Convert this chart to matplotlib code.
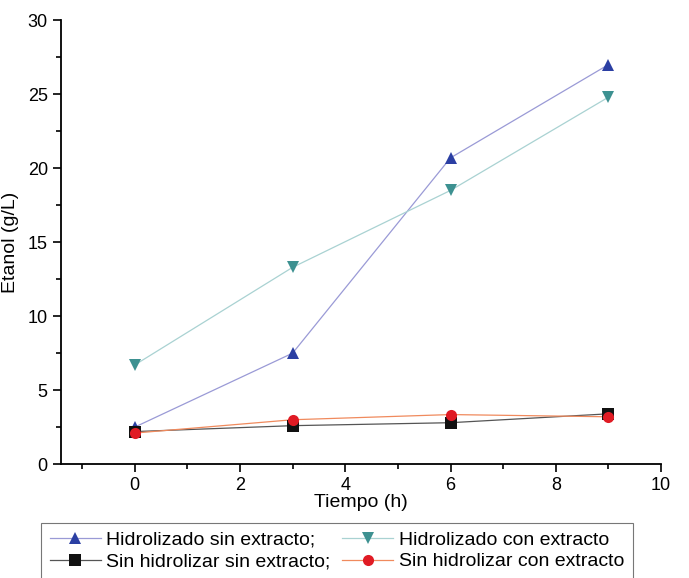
import matplotlib

matplotlib.use("Agg")
import matplotlib.pyplot as plt
from matplotlib.lines import Line2D
import matplotlib.ticker as mticker

plt.rcParams["font.family"] = ["Liberation Sans", "DejaVu Sans"]
plt.rcParams["font.size"] = 11

tiempo = [0, 3, 6, 9]
hid_sin = [2.5, 7.5, 20.7, 27.0]
hid_con = [6.7, 13.3, 18.5, 24.8]
sinhid_sin = [2.2, 2.6, 2.8, 3.4]
sinhid_con = [2.1, 3.0, 3.35, 3.2]

labels = [
    "Hidrolizado sin extracto;",
    "Hidrolizado con extracto",
    "Sin hidrolizar sin extracto;",
    "Sin hidrolizar con extracto",
]

fig = plt.figure(figsize=(6.89, 5.78), dpi=100)
ax = fig.add_axes([0.0885, 0.197, 0.871, 0.768])

series = [
    (hid_sin, "^", "#2b3fa3", "#9a9ad6"),
    (hid_con, "v", "#3d9191", "#a9d2d2"),
    (sinhid_sin, "s", "#111111", "#555555"),
    (sinhid_con, "o", "#e01b24", "#f08a5d"),
]
handles = []
for vals, mk, mcol, lcol in series:
    ax.plot(tiempo, vals, color=lcol, linewidth=0.9, zorder=1)
    ax.plot(tiempo, vals, linestyle="none", marker=mk, markersize=8,
            color=mcol, markeredgewidth=0, zorder=2)
    handles.append(Line2D([], [], color=lcol, linewidth=0.9, marker=mk,
                          markersize=8, markerfacecolor=mcol,
                          markeredgewidth=0))

ax.set_xlim(-1.4, 10)
ax.set_ylim(0, 30)
ax.set_xticks([0, 2, 4, 6, 8, 10])
ax.set_yticks([0, 5, 10, 15, 20, 25, 30])
ax.xaxis.set_minor_locator(mticker.MultipleLocator(1))
ax.yaxis.set_minor_locator(mticker.MultipleLocator(2.5))
ax.tick_params(which="major", direction="out", length=6, width=1.2, labelsize=13)
ax.tick_params(which="minor", direction="out", length=3.5, width=1.2)
ax.spines["top"].set_visible(False)
ax.spines["right"].set_visible(False)
ax.spines["left"].set_linewidth(1.3)
ax.spines["bottom"].set_linewidth(1.3)
ax.set_xlabel("Tiempo (h)", fontsize=14, labelpad=0)
ax.set_ylabel("Etanol (g/L)", fontsize=14, labelpad=6)

# legend fills row by row
order = [0, 2, 1, 3]
leg = fig.legend([handles[i] for i in order], [labels[i] for i in order],
                 ncol=2, loc="upper left", bbox_to_anchor=(0.06, 0.096),
                 fontsize=14, frameon=True, fancybox=False, borderpad=0.45,
                 handlelength=2.6, handletextpad=0.3, columnspacing=0.6,
                 labelspacing=0.2, borderaxespad=0)
leg.get_frame().set_edgecolor("#555555")
leg.get_frame().set_linewidth(0.8)

fig.savefig("out.png", dpi=100)
plt.close(fig)
